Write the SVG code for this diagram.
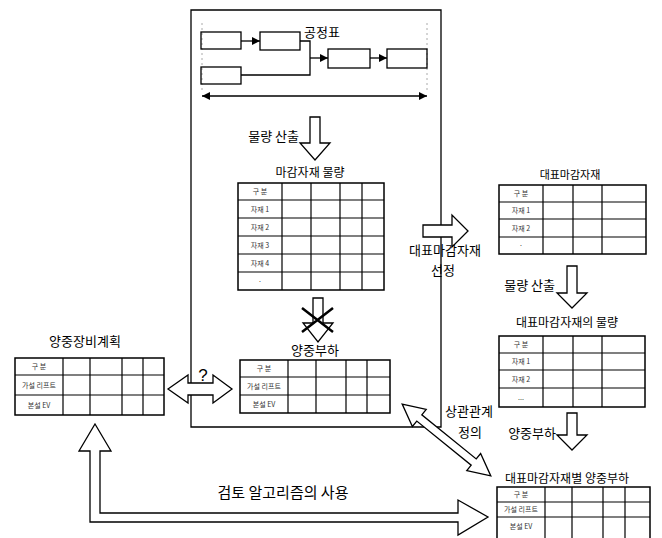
<svg xmlns="http://www.w3.org/2000/svg" width="662" height="538" viewBox="0 0 662 538">
<style>
.ln{fill:none;stroke:#000;stroke-width:1.3}
.tb{fill:#fff;stroke:#000;stroke-width:1.5}
.gl{stroke:#000;stroke-width:1.2}
.ar{fill:#fff;stroke:#000;stroke-width:1.3;stroke-linejoin:miter}
.t{font-family:"Noto Sans CJK KR","Noto Sans",sans-serif;fill:#000;text-anchor:middle}
.e{text-anchor:end}
.lb{font-size:13px}
.ti{font-size:12px}
.ce{font-size:7px;fill:#333}
.dot{stroke:#aaa;stroke-width:1;stroke-dasharray:2 3;fill:none}
</style>
<defs>
<marker id="ah" viewBox="0 0 10 10" refX="10" refY="5" markerWidth="8" markerHeight="8" markerUnits="userSpaceOnUse" orient="auto-start-reverse">
<path d="M0,0 L10,5 L0,10 z" fill="#000"/>
</marker>
</defs>

<!-- frame -->
<g id="frame">
<path class="ln" d="M191,383 V10 H441 V427 H191 V395"/>
</g>

<!-- schedule -->
<g id="schedule">
<text class="t" x="322" y="37" font-size="13">공정표</text>
<line class="dot" x1="202" y1="23" x2="202" y2="92"/>
<line class="dot" x1="427" y1="23" x2="427" y2="92"/>
<rect class="ln" x="201" y="32" width="40" height="17"/>
<rect class="ln" x="260" y="32" width="40" height="18"/>
<rect class="ln" x="201" y="67" width="40" height="17"/>
<rect class="ln" x="328" y="49" width="42" height="19"/>
<rect class="ln" x="387" y="49" width="40" height="19"/>
<line class="ln" x1="241" y1="41" x2="260" y2="41" marker-end="url(#ah)"/>
<path class="ln" d="M300,41 H310 V75 H241"/>
<line class="ln" x1="310" y1="58" x2="328" y2="58" marker-end="url(#ah)"/>
<line class="ln" x1="370" y1="58" x2="387" y2="58" marker-end="url(#ah)"/>
<line class="ln" x1="202" y1="96" x2="427" y2="96" marker-start="url(#ah)" marker-end="url(#ah)"/>
</g>

<!-- central material quantity table -->
<g id="mat-table">
<text class="t ti" x="310" y="177">마감자재 물량</text>
<rect class="tb" x="238" y="183" width="146" height="107"/>
<path class="gl" d="M238,200H384M238,218H384M238,236H384M238,254H384M238,272H384M282,183V290M311,183V290M340,183V290M362,183V290"/>
<text class="t ce" x="260" y="194">구  분</text>
<text class="t ce" x="260" y="212">자재 1</text>
<text class="t ce" x="260" y="230">자재 2</text>
<text class="t ce" x="260" y="248">자재 3</text>
<text class="t ce" x="260" y="266">자재 4</text>
<text class="t ce" x="260" y="284">·</text>
</g>

<!-- central lifting load table -->
<g id="load-table">
<text class="t" x="315" y="355" font-size="13">양중부하</text>
<rect class="tb" x="240" y="360" width="150" height="53"/>
<path class="gl" d="M240,377H390M240,395H390M288,360V413M316,360V413M346,360V413M367,360V413"/>
<text class="t ce" x="264" y="371">구  분</text>
<text class="t ce" x="264" y="389">가설 리프트</text>
<text class="t ce" x="264" y="407">본설 EV</text>
</g>

<!-- left equipment plan table -->
<g id="plan-table">
<text class="t" x="85" y="346" font-size="13">양중장비계획</text>
<rect class="tb" x="15" y="358" width="149" height="57"/>
<path class="gl" d="M15,375H164M15,395H164M63,358V415M90,358V415M122,358V415M143,358V415"/>
<text class="t ce" x="39" y="369">구  분</text>
<text class="t ce" x="39" y="388">가설 리프트</text>
<text class="t ce" x="39" y="408">본설 EV</text>
</g>

<!-- right representative material table -->
<g id="rep-table">
<text class="t" x="570" y="179" font-size="11">대표마감자재</text>
<rect class="tb" x="499" y="185" width="147" height="69"/>
<path class="gl" d="M499,202H646M499,219H646M499,237H646M543,185V254M573,185V254M602,185V254"/>
<text class="t ce" x="521" y="196">구  분</text>
<text class="t ce" x="521" y="213">자재 1</text>
<text class="t ce" x="521" y="231">자재 2</text>
<text class="t ce" x="521" y="248">·</text>
</g>

<!-- right representative quantity table -->
<g id="repqty-table">
<text class="t ti" x="567" y="327">대표마감자재의 물량</text>
<rect class="tb" x="499" y="336" width="146" height="71"/>
<path class="gl" d="M499,353H645M499,370H645M499,388H645M543,336V407M573,336V407M602,336V407"/>
<text class="t ce" x="521" y="347">구  분</text>
<text class="t ce" x="521" y="364">자재 1</text>
<text class="t ce" x="521" y="382">자재 2</text>
<text class="t ce" x="521" y="400">...</text>
</g>

<!-- right representative load table -->
<g id="repload-table">
<text class="t ti" x="567" y="483">대표마감자재별 양중부하</text>
<rect class="tb" x="497" y="487" width="153" height="60"/>
<path class="gl" d="M497,502H650M497,517H650M545,487V547M572,487V547M603,487V547M625,487V547"/>
<text class="t ce" x="521" y="497">구  분</text>
<text class="t ce" x="521" y="512">가설 리프트</text>
<text class="t ce" x="521" y="529">본설 EV</text>
</g>

<!-- connectors -->
<g id="connectors">
<polygon class="ar" points="310,117 320,117 320,143 330,143 315,160 300,143 310,143"/>
<text class="t lb e" x="299" y="141">물량 산출</text>

<polygon class="ar" points="313,298 323,298 323,323 333,323 318,342 303,323 313,323"/>
<path d="M302,308 L333,332 M333,308 L302,332" stroke="#000" stroke-width="2.5" fill="none"/>

<polygon class="ar" points="423,225 452,225 452,215 468,231 452,247 452,237 423,237"/>
<text class="t lb" x="445" y="255">대표마감자재</text>
<text class="t lb" x="443" y="275">선정</text>

<polygon class="ar" points="567,266 577,266 577,293 587,293 572,308 557,293 567,293"/>
<text class="t lb e" x="555" y="290">물량 산출</text>

<polygon class="ar" points="567,413 577,413 577,435 587,435 572,450 557,435 567,435"/>
<text class="t lb e" x="556" y="438">양중부하</text>

<polygon class="ar" points="168,389 188,375 188,383 213,383 213,375 232,389 213,403 213,395 188,395 188,403"/>
<text class="t" x="203" y="381" font-size="17" style="font-family:'Liberation Sans',sans-serif">?</text>

<polygon class="ar" transform="translate(446.5,440) rotate(39)" points="-57,0 -35,-11 -35,-4 35,-4 35,-11 57,0 35,11 35,4 -35,4 -35,11"/>
<text class="t lb" x="469" y="416">상관관계</text>
<text class="t lb" x="470" y="437">정의</text>

<polygon class="ar" points="95,424 111,451 100,451 100,513 458,513 458,500 488,517 458,535 458,522 90,522 90,451 79,451"/>
<text class="t" x="283" y="498" font-size="15">검토 알고리즘의 사용</text>
</g>
</svg>
